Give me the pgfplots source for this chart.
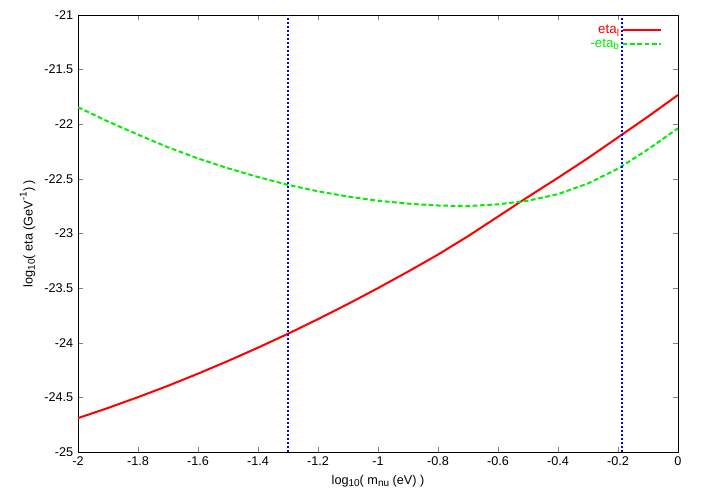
\documentclass[border=0pt]{standalone}
\usepackage{pgfplots}
\pgfplotsset{compat=1.18}
\usepackage{fontspec}
\setmainfont{Liberation Sans}
\definecolor{gpred}{RGB}{255,0,0}
\definecolor{gpgreen}{RGB}{0,238,0}
\definecolor{gpblue}{RGB}{0,0,245}
\newcommand{\sub}[1]{\raisebox{-0.35ex}{\fontsize{7.5}{8}\selectfont #1}}
\newcommand{\super}[1]{\raisebox{0.9ex}{\fontsize{7.5}{8}\selectfont #1}}
\begin{document}
\begin{tikzpicture}
\useasboundingbox (0,0) rectangle (525.75pt,368.25pt);
\begin{axis}[
  at={(58.5pt,29.25pt)}, anchor=south west,
  scale only axis, width=450pt, height=327.75pt,
  xmin=-2, xmax=0, ymin=-25, ymax=-21,
  xtick={-2,-1.8,...,0.01}, ytick={-25,-24.5,...,-20.9},
  tick align=inside, tick pos=both,
  major tick length=4pt,
  font=\fontsize{9.5}{11}\selectfont,
  /pgf/number format/assume math mode=true,
  /pgf/number format/fixed,
  xticklabel style={font=\fontsize{9.5}{11}\selectfont},
  yticklabel style={font=\fontsize{9.5}{11}\selectfont},
  xlabel={log\sub{10}( m\sub{nu} (eV) )},
  ylabel={log\sub{10}( eta (GeV\super{-1}) )},
  axis line style={black, line width=0.6pt},
  legend style={draw=none, fill=none, at={(0.981,0.99)}, anchor=north east, font=\fontsize{10}{11}\selectfont, row sep=-1.8pt},
  legend cell align=right,
  legend plot pos=right,
  legend image code/.code={\draw[#1] (0pt,0pt) -- (29pt,0pt);},
]
\addplot[gpred, line width=1.5pt] coordinates {
(-2.0,-24.690) (-1.9,-24.597) (-1.8,-24.498) (-1.7,-24.394) (-1.6,-24.283)
(-1.5,-24.167) (-1.4,-24.045) (-1.3,-23.918) (-1.2,-23.784) (-1.1,-23.645)
(-1.0,-23.500) (-0.9,-23.349) (-0.8,-23.193) (-0.7,-23.025) (-0.6,-22.845)
(-0.5,-22.665) (-0.4,-22.490) (-0.3,-22.310) (-0.2,-22.120) (-0.1,-21.930)
(0.0,-21.732)};
\addlegendentry{\textcolor{gpred}{eta\sub{l}}}
\addplot[gpgreen, line width=1.5pt, dash pattern=on 3.5pt off 2pt] coordinates {
(-2.0,-21.844) (-1.9,-21.975) (-1.8,-22.095) (-1.7,-22.211) (-1.6,-22.313)
(-1.5,-22.403) (-1.4,-22.483) (-1.3,-22.555) (-1.2,-22.614) (-1.1,-22.662)
(-1.0,-22.700) (-0.9,-22.727) (-0.8,-22.744) (-0.7,-22.749) (-0.6,-22.733)
(-0.5,-22.700) (-0.4,-22.640) (-0.3,-22.542) (-0.2,-22.407) (-0.1,-22.230)
(0.0,-22.037)};
\addlegendentry{\textcolor{gpgreen}{-eta\sub{b}}}
\addplot[gpblue, line width=1.2pt, dash pattern=on 1.3pt off 1.7pt, forget plot] coordinates {(-1.301,-25) (-1.301,-21)};
\addplot[gpblue, line width=1.2pt, dash pattern=on 1.3pt off 1.7pt, forget plot] coordinates {(-0.187,-25) (-0.187,-21)};
\end{axis}
\end{tikzpicture}
\end{document}
